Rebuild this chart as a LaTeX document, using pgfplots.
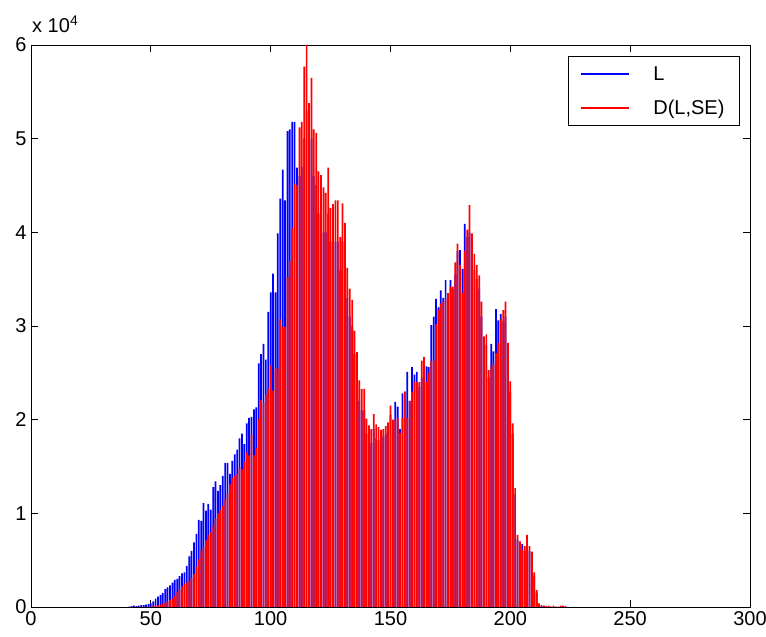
\documentclass[border=0pt]{standalone}
\usepackage{pgfplots}
\pgfplotsset{compat=1.18}
\usepackage{pgfplotstable}
\usepackage{fontspec}
\setmainfont{Liberation Sans}

% grey-level histograms (counts in units of 10^4):
% L = original image, D = image after dilation with SE
\pgfplotstableread{
v L D
41 0.005 0
42 0.01 0
43 0.015 0
44 0.01 0
45 0.015 0
46 0.02 0
47 0.02 0
48 0.025 0
49 0.03 0
50 0.04 0.005
51 0.06 0.01
52 0.09 0.015
53 0.11 0.02
54 0.13 0.025
55 0.15 0.03
56 0.19 0.05
57 0.21 0.06
58 0.23 0.08
59 0.26 0.09
60 0.29 0.12
61 0.30 0.16
62 0.33 0.19
63 0.36 0.22
64 0.37 0.25
65 0.44 0.26
66 0.54 0.28
67 0.60 0.31
68 0.69 0.35
69 0.78 0.43
70 0.93 0.51
71 0.92 0.60
72 1.11 0.64
73 1.03 0.71
74 1.10 0.77
75 1.04 0.80
76 1.28 0.86
77 1.34 0.94
78 1.24 1.00
79 1.30 1.04
80 1.40 1.08
81 1.54 1.15
82 1.54 1.21
83 1.42 1.31
84 1.56 1.38
85 1.63 1.40
86 1.68 1.42
87 1.80 1.49
88 1.85 1.47
89 1.74 1.55
90 1.96 1.65
91 2.02 1.62
92 2.03 1.84
93 2.11 1.62
94 2.13 1.70
95 2.60 2.01
96 2.70 2.21
97 2.81 2.18
98 2.64 2.27
99 3.15 2.33
100 3.36 2.58
101 3.56 2.31
102 3.36 2.55
103 3.99 2.54
104 4.36 3.07
105 4.67 2.99
106 4.34 2.99
107 5.08 3.52
108 5.10 3.69
109 5.18 4.05
110 5.18 4.52
111 4.69 4.50
112 4.60 5.12
113 4.70 5.18
114 5.00 5.77
115 5.30 6.00
116 4.90 5.38
117 5.00 5.65
118 4.60 5.10
119 4.50 5.06
120 4.20 4.65
121 4.10 4.61
122 4.00 4.48
123 4.00 4.42
124 4.20 4.69
125 3.90 4.26
126 3.90 4.30
127 3.90 4.34
128 3.90 4.34
129 3.60 3.95
130 3.90 4.31
131 3.70 4.10
132 3.30 3.62
133 3.10 3.40
134 3.00 3.28
135 2.70 2.95
136 2.50 2.72
137 2.20 2.42
138 2.10 2.33
139 2.10 2.33
140 1.85 2.01
141 1.80 1.94
142 1.75 1.90
143 1.90 2.06
144 1.80 1.95
145 1.78 1.92
146 1.80 1.89
147 1.82 1.90
148 1.85 1.93
149 1.90 1.97
150 2.05 2.15
151 1.95 2.00
152 2.19 2.00
153 2.14 2.02
154 1.90 1.86
155 2.28 2.02
156 2.30 2.30
157 2.51 2.02
158 2.20 2.20
159 2.56 2.30
160 2.48 2.40
161 2.51 2.40
162 2.35 2.40
163 2.45 2.63
164 2.55 2.67
165 2.57 2.40
166 2.56 2.50
167 3.01 2.63
168 3.10 2.63
169 3.29 3.02
170 3.20 3.17
171 3.38 3.24
172 3.30 3.26
173 3.49 3.29
174 3.30 3.35
175 3.49 3.42
176 3.40 3.42
177 3.55 3.68
178 3.80 3.88
179 3.81 3.65
180 3.61 3.35
181 4.09 3.80
182 3.95 4.03
183 4.00 4.29
184 3.70 3.99
185 3.60 3.77
186 3.50 3.65
187 3.40 3.54
188 3.10 3.26
189 2.80 2.89
190 2.80 2.91
191 2.45 2.53
192 2.81 2.57
193 2.73 2.60
194 3.18 2.71
195 3.06 2.82
196 3.13 3.07
197 3.05 3.17
198 3.10 3.26
199 2.70 2.82
200 2.30 2.41
201 1.85 1.96
202 1.20 1.27
203 0.72 0.77
204 0.66 0.70
205 0.67 0.61
206 0.60 0.65
207 0.70 0.77
208 0.60 0.65
209 0.55 0.59
210 0.33 0.37
211 0.15 0.18
212 0.03 0.04
213 0.015 0.02
214 0.01 0.015
215 0 0.01
216 0 0.015
217 0 0.005
218 0 0.015
219 0 0.005
220 0 0.005
221 0 0.015
222 0 0.015
223 0 0.01
}\histdata

\begin{document}
\begin{tikzpicture}
\begin{axis}[
  at={(0pt,0pt)}, anchor=south west,
  scale only axis, width=719pt, height=562pt,
  xmin=0, xmax=300, ymin=0, ymax=6,
  xtick={0,50,...,300}, ytick={0,1,...,6},
  axis line style={black, line width=0.9pt},
  tick style={black, line width=0.9pt},
  major tick length=7pt,
  tick align=inside,
  /pgf/number format/assume math mode=true,
  ticklabel style={font=\fontsize{20}{24}\selectfont},
  xticklabel style={yshift=-1pt},
  yticklabel style={xshift=-1pt},
  legend cell align=left,
  legend style={at={(0.986,0.980)}, anchor=north east,
    draw=black, line width=0.9pt,
    font=\fontsize{20}{24}\selectfont,
    inner xsep=13pt, inner ysep=8pt, row sep=14pt,
    /tikz/every odd column/.style={column sep=22pt}},
]
\addplot[ybar, bar width=0.72, bar shift=0pt, fill=blue, draw=none,
  legend image code/.code={\fill[blue] (0pt,-0.9pt) rectangle (48pt,0.9pt);}]
  table[x=v, y=L] {\histdata};
\addlegendentry{L}
\addplot[ybar, bar width=0.72, bar shift=0pt, fill=red, draw=none,
  legend image code/.code={\fill[red] (0pt,-0.9pt) rectangle (48pt,0.9pt);}]
  table[x=v, y=D] {\histdata};
\addlegendentry{D(L,SE)}
\end{axis}
\node[anchor=base west, font=\fontsize{20}{24}\selectfont, inner sep=0pt]
  at (1pt,574pt) {x 10\textsuperscript{4}};
\pgfresetboundingbox
\path[use as bounding box] (-31pt,-30pt) rectangle (735pt,607pt);
\end{tikzpicture}
\end{document}
